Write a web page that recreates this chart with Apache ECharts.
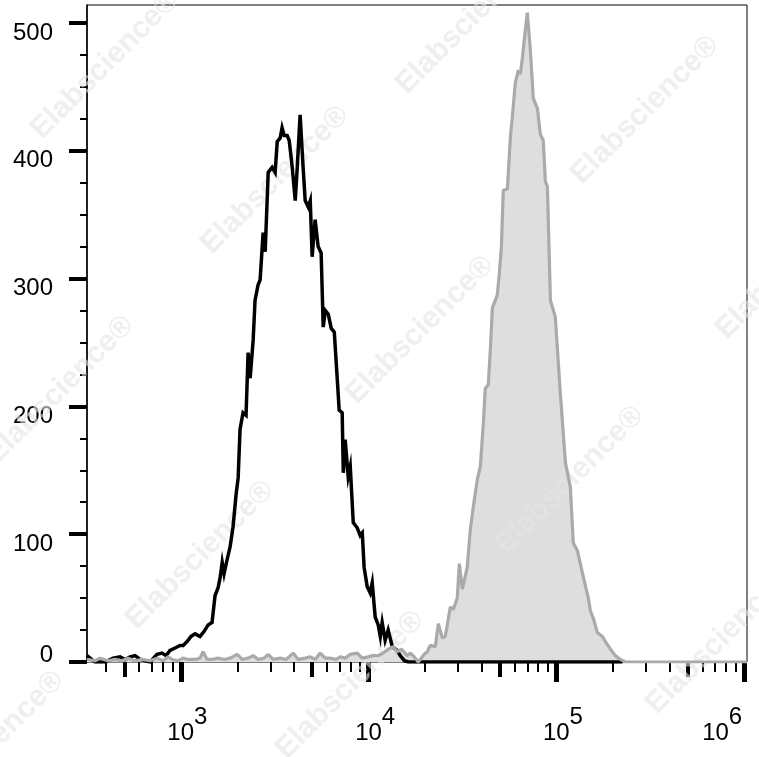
<!DOCTYPE html>
<html>
<head>
<meta charset="utf-8">
<script src="https://cdn.jsdelivr.net/npm/echarts@6/dist/echarts.min.js"></script>
<style>
html,body{margin:0;padding:0;background:#fff;overflow:hidden;width:759px;height:757px;}
#chart{width:759px;height:757px;position:absolute;left:0;top:0;}
</style>
</head>
<body>
<div id="chart"></div>
<script>
// Fluorescence intensity expressed as log10 exponent; counts per bin.
const blackLog10 = [
2.500,2.543,2.596,2.639,2.676,2.703,2.729,2.756,2.783,2.836,
2.873,2.900,2.921,2.942,2.969,2.996,3.012,3.033,3.054,3.076,
3.102,3.124,3.145,3.166,3.182,3.198,3.209,3.220,3.230,3.246,
3.262,3.278,3.294,3.305,3.315,3.331,3.347,3.358,3.369,3.385,
3.395,3.411,3.422,3.438,3.449,3.465,3.486,3.502,3.513,3.529,
3.539,3.550,3.566,3.577,3.593,3.609,3.619,3.635,3.651,3.662,
3.678,3.689,3.699,3.715,3.731,3.747,3.758,3.769,3.785,3.801,
3.817,3.833,3.843,3.859,3.865,3.875,3.891,3.902,3.918,3.939,
3.955,3.966,3.976,3.992,4.008,4.019,4.035,4.051,4.062,4.072,
4.088,4.104,4.126,4.152,4.168,4.190,4.211,5.352];
const blackCount = [
5,0,0,3,4,2,4,5,2,0,
6,7,5,9,11,13,13,16,20,22,
20,24,29,31,52,58,66,78,69,80,
90,106,131,144,182,195,193,242,222,252,
283,295,299,336,321,383,387,383,407,410,
418,412,412,408,387,361,385,428,387,361,
356,361,317,346,325,320,262,275,272,261,
258,221,197,195,148,174,145,153,109,105,
99,101,74,59,54,62,35,29,20,31,
17,25,12,9,5,1,0,0];

const grayLog10 = [
2.500,2.543,2.569,2.612,2.649,2.687,2.719,2.756,2.793,2.836,
2.873,2.905,2.932,2.953,2.985,3.012,3.038,3.076,3.102,3.118,
3.140,3.166,3.198,3.230,3.262,3.300,3.326,3.358,3.385,3.411,
3.443,3.465,3.491,3.529,3.561,3.598,3.625,3.662,3.689,3.715,
3.742,3.769,3.795,3.827,3.848,3.875,3.902,3.939,3.966,3.998,
4.024,4.051,4.078,4.104,4.131,4.152,4.174,4.206,4.222,4.243,
4.264,4.280,4.296,4.312,
4.328,4.355,4.371,4.392,4.408,4.435,4.451,4.472,4.483,4.499,
4.525,4.541,4.557,4.579,4.595,4.611,4.621,4.637,4.648,4.659,
4.685,4.696,4.707,4.717,4.739,4.755,4.765,4.781,4.797,
4.808,4.819,4.829,4.845,4.861,4.877,4.899,4.914,4.930,4.941,
4.952,4.968,4.994,5.021,5.048,5.074,5.090,5.112,5.138,5.154,
5.170,5.181,5.197,5.218,5.245,5.261,5.288,5.314,5.341,5.368,6.015];
const grayCount = [
2,1,3,1,2,1,3,1,2,1,
3,1,4,2,1,3,2,2,3,8,
2,2,3,2,3,6,2,3,5,2,
3,6,2,3,2,7,2,3,4,2,
7,3,3,2,4,3,6,7,3,4,
5,5,7,10,12,8,10,5,7,4,
0,3,6,8,
13,12,30,19,20,43,41,50,77,57,
74,103,121,143,153,187,214,217,244,277,
287,304,325,369,370,411,426,453,463,
460,473,487,508,479,441,433,413,408,376,
372,283,270,210,156,137,93,87,70,60,
50,40,34,23,20,16,10,5,2,0,0];

const yTickValues = [0,100,200,300,400,500];
const xDecadeExponents = [3,4,5,6];
const watermarkText = 'Elabscience®';

const X_MIN = 2.5, X_MAX = 6.015, Y_MAX = 514;
const FONT = '"Liberation Sans", Arial, Helvetica, sans-serif';

// minor tick positions on the log scale (2..9 x 10^n)
const xMinorTicks = [], xMidTicks = [];
for (let n = 2; n <= 5; n++) {
  for (let k = 2; k <= 9; k++) {
    const v = n + Math.log10(k);
    if (v <= X_MIN || v >= X_MAX) continue;
    if (k === 5) xMidTicks.push(v); else xMinorTicks.push(v);
  }
}
const yMinorTicks = [];
for (let v = 25; v < 500; v += 25) if (v % 100 !== 0) yMinorTicks.push(v);

const blackData = blackLog10.map((x, i) => [x, blackCount[i]]);
const grayData = grayLog10.map((x, i) => [x, grayCount[i]]);

const chart = echarts.init(document.getElementById('chart'), null, {renderer: 'canvas', width: 759, height: 757});

const baseX = {type: 'value', min: X_MIN, max: X_MAX, position: 'bottom', gridIndex: 0,
  axisLine: {show: false}, splitLine: {show: false}};
const baseY = {type: 'value', min: 0, max: Y_MAX, position: 'left', gridIndex: 0,
  splitLine: {show: false}};

const wmPos = [[105,65],[275,180],[470,20],[645,110],[60,390],[420,330],[790,265],
  [200,555],[570,480],[-10,745],[350,685],[720,640]];

const lbl = {fontSize: 24, lineHeight: 24, fontFamily: FONT, color: '#000'};

chart.setOption({
  animation: false,
  backgroundColor: '#fff',
  grid: {left: 87, right: 12, top: 5, bottom: 95, show: true, borderColor: '#000', borderWidth: 1,
    backgroundColor: 'transparent', containLabel: false, outerBoundsMode: 'none'},
  xAxis: [
    Object.assign({}, baseX, {
      axisTick: {show: true, customValues: xDecadeExponents, length: 20,
        lineStyle: {color: '#000', width: 5}},
      axisLabel: {show: true, customValues: xDecadeExponents, margin: 51, hideOverlap: false,
        formatter: v => {
          const e = Math.round(v);
          return e === 6 ? '{bl|10}{sl|' + e + '}' : '{b|10}{s|' + e + '}';
        },
        rich: {
          b: Object.assign({}, lbl, {padding: [16,0,0,13]}),
          s: Object.assign({}, lbl, {padding: [0,0,16,0]}),
          bl: Object.assign({}, lbl, {padding: [16,0,0,0]}),
          sl: Object.assign({}, lbl, {padding: [0,44,16,0]})
        }}
    }),
    Object.assign({}, baseX, {
      axisTick: {show: true, customValues: xMidTicks, length: 15, lineStyle: {color: '#000', width: 4}},
      axisLabel: {show: false}
    }),
    Object.assign({}, baseX, {
      axisTick: {show: true, customValues: xMinorTicks, length: 10, lineStyle: {color: '#000', width: 2}},
      axisLabel: {show: false}
    })
  ],
  yAxis: [
    Object.assign({}, baseY, {
      axisLine: {show: true, lineStyle: {color: '#000', width: 1.5}},
      axisTick: {show: true, customValues: yTickValues, length: 18, lineStyle: {color: '#000', width: 4}},
      axisLabel: {show: true, customValues: yTickValues, margin: 34,
        formatter: v => (v === 0 ? '{z|0}' : '{a|' + v + '}'),
        rich: {
          a: Object.assign({}, lbl, {padding: [20,0,0,0]}),
          z: Object.assign({}, lbl, {padding: [0,0,14,0]})
        }}
    }),
    Object.assign({}, baseY, {
      axisLine: {show: false},
      axisTick: {show: true, customValues: yMinorTicks, length: 7, lineStyle: {color: '#000', width: 2}},
      axisLabel: {show: false}
    })
  ],
  graphic: {elements: wmPos.map(p => ({
    type: 'text', x: p[0], y: p[1], rotation: Math.PI / 4, z: 2, silent: true,
    style: {text: watermarkText, fontSize: 30, fontWeight: 'bold', fontFamily: FONT,
      fill: 'rgba(228,228,228,0.6)', align: 'center', verticalAlign: 'middle'}
  }))},
  series: [
    {type: 'line', name: 'stained-fill', data: grayData, xAxisIndex: 0, yAxisIndex: 0, symbol: 'none',
      z: 1, lineStyle: {width: 0, opacity: 0}, areaStyle: {color: '#dedede', opacity: 1}, clip: true},
    {type: 'line', name: 'control', data: blackData, xAxisIndex: 0, yAxisIndex: 0, symbol: 'none',
      z: 3, lineStyle: {color: '#000', width: 3.5, join: 'miter'}, clip: true},
    {type: 'line', name: 'stained', data: grayData, xAxisIndex: 0, yAxisIndex: 0, symbol: 'none',
      z: 4, lineStyle: {color: '#aaaaaa', width: 3.2}, clip: true}
  ]
});
</script>
</body>
</html>
